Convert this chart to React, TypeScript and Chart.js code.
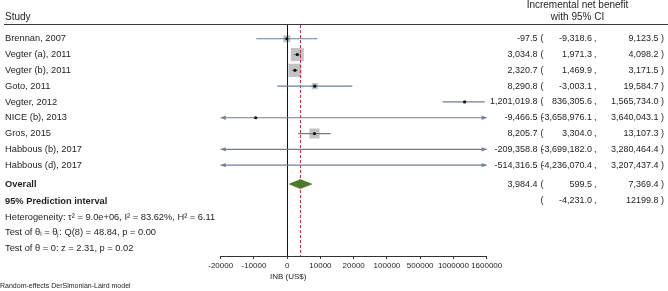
import React, { useEffect, useRef } from 'react';
import { Chart, LinearScale, registerables } from 'chart.js';

// ---------- data ----------
const studies = [
  'Brennan, 2007',
  'Vegter (a), 2011',
  'Vegter (b), 2011',
  'Goto, 2011',
  'Vegter, 2012',
  'NICE (b), 2013',
  'Gros, 2015',
  'Habbous (b), 2017',
  'Habbous (d), 2017',
];
const estimates = [-97.5, 3034.8, 2320.7, 8290.8, 1201019.8, -9466.5, 8205.7, -209358.8, -514316.5];
const lowerCI = [-9318.6, 1971.3, 1469.9, -3003.1, 836305.6, -3658976.1, 3304.0, -3699182.0, -4236070.4];
const upperCI = [9123.5, 4098.2, 3171.5, 19584.7, 1565734.0, 3640043.1, 13107.3, 3280464.4, 3207437.4];
const weights = [9.45, 31.86, 32.23, 7.03, 0.0, 0.0, 19.42, 0.0, 0.0];
const overallEstimate = 3984.4;
const overallLower = 599.5;
const overallUpper = 7369.4;
const predictionLower = -4231.0;
const predictionUpper = 12199.8;
const axisTicks = [-20000, -10000, 0, 10000, 20000, 100000, 500000, 1000000, 1600000];
const statLines = [
  'Heterogeneity: \u03C4\u00B2 = 9.0e+06, I\u00B2 = 83.62%, H\u00B2 = 6.11',
  'Test of \u03B8\u1D62 = \u03B8\u2C7C: Q(8) = 48.84, p = 0.00',
  'Test of \u03B8 = 0: z = 2.31, p = 0.02',
];
const axisTitle = 'INB (US$)';
const footnote = 'Random-effects DerSimonian-Laird model';

// ---------- piecewise axis ----------
function valueToIndex(v: number): number {
  const k = axisTicks;
  const n = k.length - 1;
  if (v <= k[0]) return (v - k[0]) / (k[1] - k[0]);
  for (let i = 1; i <= n; i++) {
    if (v <= k[i]) return i - 1 + (v - k[i - 1]) / (k[i] - k[i - 1]);
  }
  return n + (v - k[n]) / (k[n] - k[n - 1]);
}
function indexToValue(idx: number): number {
  const k = axisTicks;
  const n = k.length - 1;
  const i = Math.max(0, Math.min(n - 1, Math.floor(idx)));
  return k[i] + (idx - i) * (k[i + 1] - k[i]);
}

class PiecewiseScale extends LinearScale {
  static id = 'piecewise';
  static defaults = {};
  determineDataLimits() {
    this.min = axisTicks[0];
    this.max = axisTicks[axisTicks.length - 1];
  }
  buildTicks() {
    return axisTicks.map((value) => ({ value }));
  }
  getPixelForValue(value: number) {
    return this.getPixelForDecimal(valueToIndex(value) / (axisTicks.length - 1));
  }
  getValueForPixel(pixel: number) {
    return indexToValue(this.getDecimalForPixel(pixel) * (axisTicks.length - 1));
  }
}

Chart.register(...registerables, PiecewiseScale as any);

const FONT = '"Liberation Sans", Arial, Helvetica, sans-serif';
const TEXT = '#1e1e1e';
const CI_COLOR = '#6b7f9e';

function fmt(v: number, group = true): string {
  return v.toLocaleString('en-US', {
    minimumFractionDigits: 1,
    maximumFractionDigits: 1,
    useGrouping: group,
  });
}

const forestPlugin = {
  id: 'forest',
  afterDatasetDraw(chart: any, args: any) {
    if (args.index !== 0) return;
    const ctx = chart.ctx;
    const xs = chart.scales.x;
    const ys = chart.scales.y;
    const area = chart.chartArea;
    ctx.save();
    // no-effect line
    const x0 = Math.round(xs.getPixelForValue(0)) + 0.5;
    ctx.strokeStyle = '#111';
    ctx.lineWidth = 1;
    ctx.beginPath();
    ctx.moveTo(x0, area.top);
    ctx.lineTo(x0, area.bottom);
    ctx.stroke();
    // overall estimate dashed line
    const xo = xs.getPixelForValue(overallEstimate);
    ctx.strokeStyle = '#c0243c';
    ctx.setLineDash([3, 2]);
    ctx.beginPath();
    ctx.moveTo(xo, area.top);
    ctx.lineTo(xo, area.bottom);
    ctx.stroke();
    ctx.setLineDash([]);

    // CI lines with arrows
    const minV = axisTicks[0];
    const maxV = axisTicks[axisTicks.length - 1];
    ctx.strokeStyle = CI_COLOR;
    ctx.fillStyle = CI_COLOR;
    ctx.lineWidth = 1.2;
    studies.forEach((_, i) => {
      const y = ys.getPixelForValue(i);
      const lo = Math.max(lowerCI[i], minV);
      const hi = Math.min(upperCI[i], maxV);
      const xl = xs.getPixelForValue(lo);
      const xh = xs.getPixelForValue(hi);
      ctx.beginPath();
      ctx.moveTo(xl, y);
      ctx.lineTo(xh, y);
      ctx.stroke();
      if (lowerCI[i] < minV) {
        ctx.beginPath();
        ctx.moveTo(xl, y);
        ctx.lineTo(xl + 5, y - 2.2);
        ctx.lineTo(xl + 5, y + 2.2);
        ctx.closePath();
        ctx.fill();
      }
      if (upperCI[i] > maxV) {
        ctx.beginPath();
        ctx.moveTo(xh, y);
        ctx.lineTo(xh - 5, y - 2.2);
        ctx.lineTo(xh - 5, y + 2.2);
        ctx.closePath();
        ctx.fill();
      }
    });

    // overall diamond
    const yd = ys.getPixelForValue(9.2);
    const dl = xs.getPixelForValue(overallLower);
    const dh = xs.getPixelForValue(overallUpper);
    ctx.fillStyle = '#4b7b29';
    ctx.strokeStyle = '#3c6420';
    ctx.lineWidth = 0.6;
    ctx.beginPath();
    ctx.moveTo(dl, yd);
    ctx.lineTo(xo, yd - 4.5);
    ctx.lineTo(dh, yd);
    ctx.lineTo(xo, yd + 4.5);
    ctx.closePath();
    ctx.fill();
    ctx.stroke();
    ctx.restore();
  },
  afterDraw(chart: any) {
    const ctx = chart.ctx;
    const ys = chart.scales.y;
    const xs = chart.scales.x;
    ctx.save();
    ctx.fillStyle = TEXT;
    ctx.textBaseline = 'middle';

    // header
    ctx.font = `10px ${FONT}`;
    ctx.textAlign = 'left';
    ctx.fillText('Study', 5, 17);
    ctx.textAlign = 'center';
    ctx.fillText('Incremental net benefit', 577.5, 5);
    ctx.fillText('with 95% CI', 577.5, 17);
    ctx.strokeStyle = '#3a3a3a';
    ctx.lineWidth = 1;
    ctx.beginPath();
    ctx.moveTo(4, 24.5);
    ctx.lineTo(668, 24.5);
    ctx.stroke();

    const colEst = 537.5;
    const colOpen = 540.5;
    const colLo = 592;
    const colComma = 594;
    const colHi = 658.5;
    const colClose = 661;

    const row = (y: number, est: string | null, lo: string, hi: string) => {
      ctx.textAlign = 'right';
      if (est !== null) ctx.fillText(est, colEst, y);
      ctx.fillText(lo, colLo, y);
      ctx.fillText(hi, colHi, y);
      ctx.textAlign = 'left';
      ctx.fillText('(', colOpen, y);
      ctx.fillText(',', colComma, y);
      ctx.fillText(')', colClose, y);
    };

    const LEFT = `9.3px ${FONT}`;
    const NUM = `9px ${FONT}`;
    studies.forEach((s, i) => {
      const y = ys.getPixelForValue(i);
      ctx.font = LEFT;
      ctx.textAlign = 'left';
      ctx.fillText(s, 5, y);
      ctx.font = NUM;
      row(y, fmt(estimates[i]), fmt(lowerCI[i]), fmt(upperCI[i]));
    });

    // overall
    const yOv = ys.getPixelForValue(9.2);
    const yPi = ys.getPixelForValue(10.27);
    ctx.font = `bold 9.3px ${FONT}`;
    ctx.textAlign = 'left';
    ctx.fillText('Overall', 5, yOv);
    ctx.fillText('95% Prediction interval', 5, yPi);
    ctx.font = NUM;
    row(yOv, fmt(overallEstimate), fmt(overallLower), fmt(overallUpper));
    row(yPi, null, fmt(predictionLower), fmt(predictionUpper, false));

    const statRows = [11.3, 12.28, 13.3];
    ctx.font = LEFT;
    statLines.forEach((t, i) => {
      ctx.textAlign = 'left';
      ctx.fillText(t, 5, ys.getPixelForValue(statRows[i]));
    });

    // axis title
    ctx.font = `8px ${FONT}`;
    ctx.textAlign = 'center';
    ctx.fillText(axisTitle, xs.getPixelForValue(0) + 1, 276.5);

    // footnote
    ctx.font = `7px ${FONT}`;
    ctx.textAlign = 'left';
    ctx.fillText(footnote, 0, 286.5);
    ctx.restore();
  },
};

export default function App() {
  const ref = useRef<HTMLCanvasElement | null>(null);
  useEffect(() => {
    document.body.style.margin = '0';
    const canvas = ref.current;
    if (!canvas) return;
    const points = studies.map((_, i) => ({ x: estimates[i], y: i }));
    const chart = new Chart(canvas, {
      type: 'scatter',
      data: {
        datasets: [
          {
            data: points,
            pointStyle: 'rect',
            pointRadius: weights.map((w) => (2.3 * Math.sqrt(w)) / Math.SQRT2),
            pointHoverRadius: weights.map((w) => (2.3 * Math.sqrt(w)) / Math.SQRT2),
            backgroundColor: '#c2c2c2',
            borderWidth: 0,
            order: 2,
          },
          {
            data: points,
            pointStyle: 'circle',
            pointRadius: 1.6,
            pointHoverRadius: 1.6,
            backgroundColor: '#111',
            borderWidth: 0,
            order: 1,
          },
        ],
      },
      options: {
        animation: false,
        responsive: false,
        maintainAspectRatio: false,
        devicePixelRatio: 1,
        events: [],
        layout: { padding: { left: 220.7, right: 181.3, top: 25, bottom: 0 } },
        plugins: { legend: { display: false }, tooltip: { enabled: false } },
        scales: {
          x: {
            type: 'piecewise' as any,
            position: 'bottom',
            grid: { display: true, drawOnChartArea: false, drawTicks: true, tickLength: 3, color: '#333', lineWidth: 1 },
            border: { display: true, color: '#333', width: 1 },
            ticks: {
              autoSkip: false,
              maxRotation: 0,
              minRotation: 0,
              padding: 2,
              color: TEXT,
              font: { size: 8, family: FONT },
              callback: (v: any) => String(v),
            },
            afterFit: (s: any) => {
              s.height = 35;
            },
          } as any,
          y: {
            type: 'linear',
            display: false,
            reverse: true,
            min: -0.87,
            max: 13.75,
          },
        },
      },
      plugins: [forestPlugin],
    });
    return () => chart.destroy();
  }, []);
  return <canvas ref={ref} width={668} height={291} style={{ display: 'block' }} />;
}
